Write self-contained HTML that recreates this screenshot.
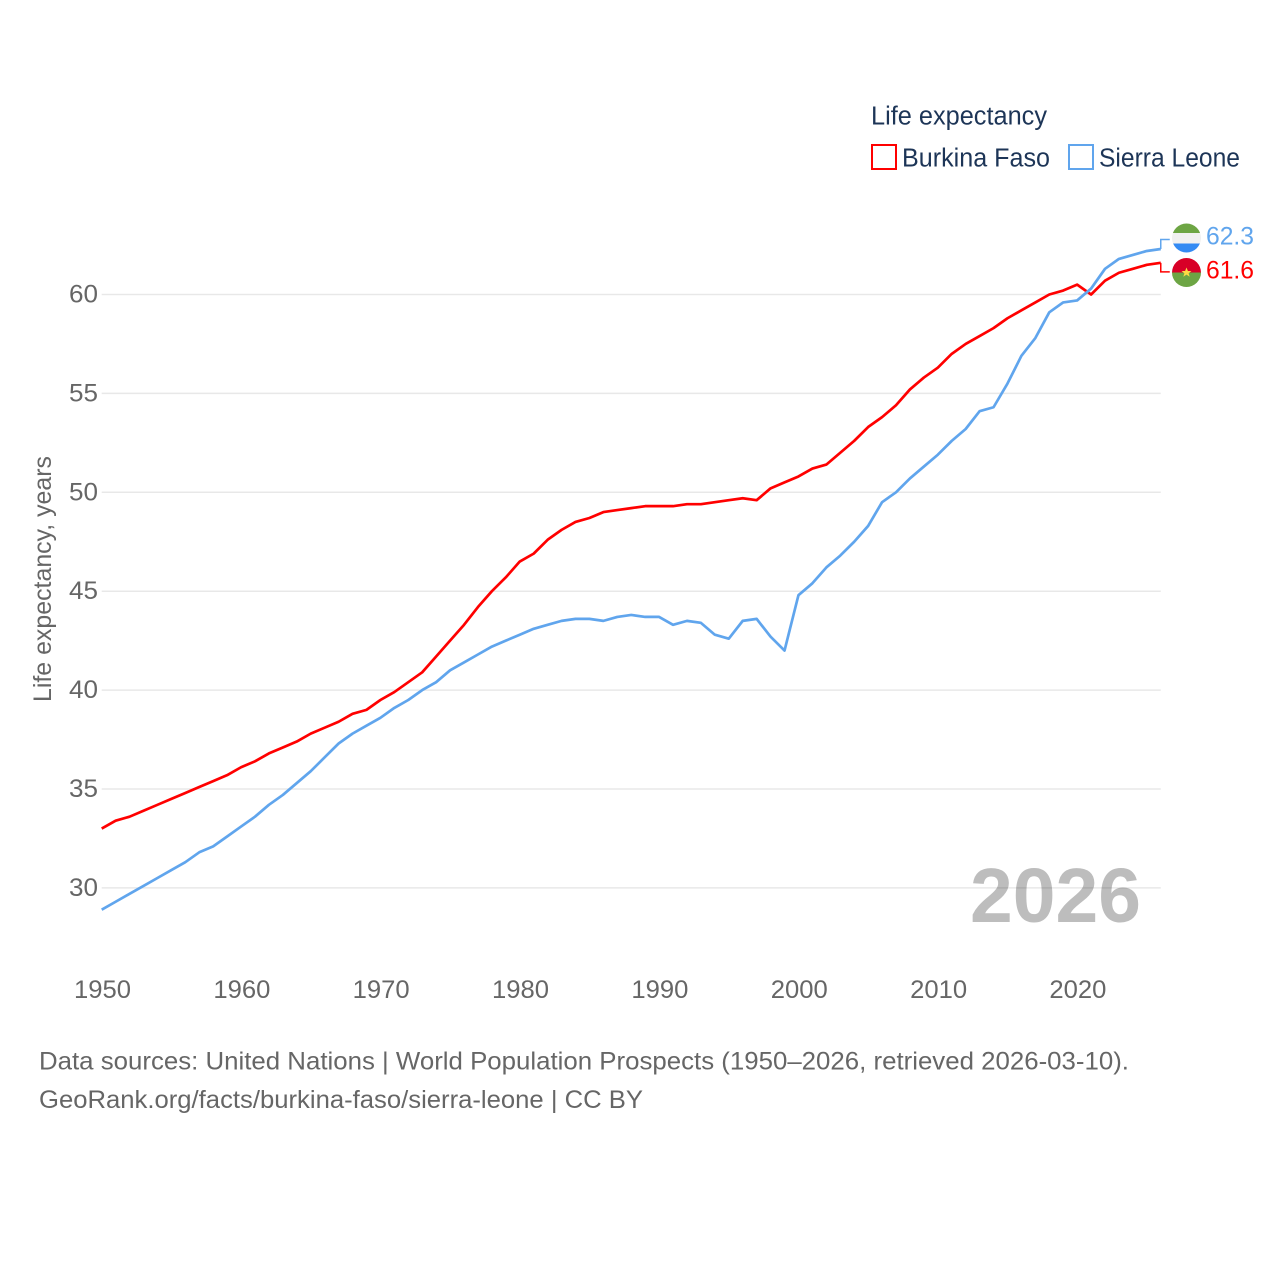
<!DOCTYPE html>
<html lang="en">
<head>
<meta charset="utf-8">
<title>Life expectancy: Burkina Faso and Sierra Leone</title>
<style>
  html, body { margin: 0; padding: 0; background: #fff; }
  #chart { display: block; width: 1280px; height: 1280px; font-family: "Liberation Sans", "DejaVu Sans", sans-serif; }
</style>
</head>
<body>
<svg id="chart" xmlns="http://www.w3.org/2000/svg" width="1280" height="1280" viewBox="0 0 1280 1280">
  <rect width="1280" height="1280" fill="#ffffff"/>

  <text x="970" y="922" font-size="77" font-weight="700" fill="#bdbdbd" textLength="171" lengthAdjust="spacingAndGlyphs">2026</text>

  <g id="grid"></g>
  <g id="y-ticks"></g>
  <g id="x-ticks"></g>
  <g id="series"></g>

  <text transform="translate(51,702) rotate(-90)" font-size="25" fill="#666666" textLength="246" lengthAdjust="spacingAndGlyphs">Life expectancy, years</text>

  <g>
    <text x="871" y="124.5" font-size="25.5" fill="#1d3557" textLength="176" lengthAdjust="spacingAndGlyphs">Life expectancy</text>
    <g>
      <rect x="872" y="145" width="24" height="24" fill="#ffffff" stroke="#ff0000" stroke-width="2"/>
      <text x="902" y="166.5" font-size="25.5" fill="#1d3557" textLength="148" lengthAdjust="spacingAndGlyphs">Burkina Faso</text>
    </g>
    <g>
      <rect x="1069" y="145" width="24" height="24" fill="#ffffff" stroke="#60a5ed" stroke-width="2"/>
      <text x="1099" y="166.5" font-size="25.5" fill="#1d3557" textLength="141" lengthAdjust="spacingAndGlyphs">Sierra Leone</text>
    </g>
  </g>

  <defs>
    <clipPath id="flag-clip-sl"><circle cx="1186.5" cy="238" r="14.5"/></clipPath>
    <clipPath id="flag-clip-bf"><circle cx="1186.5" cy="272.5" r="14.5"/></clipPath>
  </defs>
  <g clip-path="url(#flag-clip-sl)">
    <rect x="1172" y="223" width="30" height="10" fill="#6da544"/>
    <rect x="1172" y="233" width="30" height="11" fill="#f0f0f0"/>
    <rect x="1172" y="243.5" width="30" height="10" fill="#338af3"/>
  </g>
  <g clip-path="url(#flag-clip-bf)">
    <rect x="1172" y="258" width="30" height="14.5" fill="#d80027"/>
    <rect x="1172" y="272.5" width="30" height="15" fill="#6da544"/>
    <polygon points="1186.5,267.5 1187.9,271 1191.5,271 1188.6,273.2 1189.7,276.7 1186.5,274.6 1183.3,276.7 1184.4,273.2 1181.5,271 1185.1,271" fill="#ffda44"/>
  </g>

  <text x="39" y="1069.5" font-size="25" fill="#666666" textLength="1090" lengthAdjust="spacingAndGlyphs">Data sources: United Nations | World Population Prospects (1950–2026, retrieved 2026-03-10).</text>
  <text x="39" y="1108" font-size="25" fill="#666666" textLength="604" lengthAdjust="spacingAndGlyphs">GeoRank.org/facts/burkina-faso/sierra-leone | CC BY</text>
</svg>

<script>
const startYear = 1950;
const yTickValues = [30, 35, 40, 45, 50, 55, 60];
const xTickValues = [1950, 1960, 1970, 1980, 1990, 2000, 2010, 2020];
const burkinaFasoValues = [
  33.0, 33.4, 33.6, 33.9, 34.2, 34.5, 34.8, 35.1, 35.4, 35.7,
  36.1, 36.4, 36.8, 37.1, 37.4, 37.8, 38.1, 38.4, 38.8, 39.0,
  39.5, 39.9, 40.4, 40.9, 41.7, 42.5, 43.3, 44.2, 45.0, 45.7,
  46.5, 46.9, 47.6, 48.1, 48.5, 48.7, 49.0, 49.1, 49.2, 49.3,
  49.3, 49.3, 49.4, 49.4, 49.5, 49.6, 49.7, 49.6, 50.2, 50.5,
  50.8, 51.2, 51.4, 52.0, 52.6, 53.3, 53.8, 54.4, 55.2, 55.8,
  56.3, 57.0, 57.5, 57.9, 58.3, 58.8, 59.2, 59.6, 60.0, 60.2,
  60.5, 60.0, 60.7, 61.1, 61.3, 61.5, 61.6
];
const sierraLeoneValues = [
  28.9, 29.3, 29.7, 30.1, 30.5, 30.9, 31.3, 31.8, 32.1, 32.6,
  33.1, 33.6, 34.2, 34.7, 35.3, 35.9, 36.6, 37.3, 37.8, 38.2,
  38.6, 39.1, 39.5, 40.0, 40.4, 41.0, 41.4, 41.8, 42.2, 42.5,
  42.8, 43.1, 43.3, 43.5, 43.6, 43.6, 43.5, 43.7, 43.8, 43.7,
  43.7, 43.3, 43.5, 43.4, 42.8, 42.6, 43.5, 43.6, 42.7, 42.0,
  44.8, 45.4, 46.2, 46.8, 47.5, 48.3, 49.5, 50.0, 50.7, 51.3,
  51.9, 52.6, 53.2, 54.1, 54.3, 55.5, 56.9, 57.8, 59.1, 59.6,
  59.7, 60.3, 61.3, 61.8, 62.0, 62.2, 62.3
];

const SVG_NS = 'http://www.w3.org/2000/svg';
function xScale(year) { return 101.7 + (year - 1950) * 13.935; }
function yScale(value) { return 294.5 + (60 - value) * 19.78; }
function make(tag, attrs, parent) {
  const el = document.createElementNS(SVG_NS, tag);
  for (const k in attrs) el.setAttribute(k, attrs[k]);
  parent.appendChild(el);
  return el;
}

const gridGroup = document.getElementById('grid');
const yTickGroup = document.getElementById('y-ticks');
const xTickGroup = document.getElementById('x-ticks');
const seriesGroup = document.getElementById('series');

yTickValues.forEach(function (v) {
  const line = make('line', { x1: xScale(1950), x2: xScale(2026), y1: yScale(v), y2: yScale(v), stroke: '#000000', 'stroke-opacity': '0.09', 'stroke-width': 1.5 }, gridGroup);
  
  
  const label = make('text', { x: 98, y: yScale(v) + 8, 'text-anchor': 'end', 'font-size': 25, fill: '#666666', textLength: 29, lengthAdjust: 'spacingAndGlyphs' }, yTickGroup);
  
  
  label.textContent = String(v);
});

xTickValues.forEach(function (year) {
  const label = make('text', { x: xScale(year) + 0.8, y: 998, 'text-anchor': 'middle', 'font-size': 25, fill: '#666666', textLength: 57, lengthAdjust: 'spacingAndGlyphs' }, xTickGroup);
  
  
  label.textContent = String(year);
});

function drawSeries(values, color, key, connectorOffset, textBaselineOffset) {
  const points = values.map(function (v, i) {
    return xScale(startYear + i).toFixed(2) + ',' + yScale(v).toFixed(2);
  }).join(' ');
  const line = make('polyline', { points: points, fill: 'none', stroke: color, 'stroke-width': 2.7, 'stroke-linejoin': 'round' }, seriesGroup);
  
  

  const last = values[values.length - 1];
  const endX = xScale(startYear + values.length - 1);
  const endY = yScale(last);
  const labelY = endY + connectorOffset;
  const connector = make('polyline', {
    points: endX + ',' + endY + ' ' + endX + ',' + labelY + ' ' + (endX + 9) + ',' + labelY,
    fill: 'none', stroke: color, 'stroke-width': 1.5
  }, seriesGroup);
  
  

  const valueLabel = make('text', { x: 1206, y: labelY + textBaselineOffset, 'font-size': 25, fill: color, textLength: 48, lengthAdjust: 'spacingAndGlyphs' }, seriesGroup);
  
  
  valueLabel.textContent = last.toFixed(1);
}

drawSeries(burkinaFasoValues, '#ff0000', 'burkina-faso', 9, 6.6);
drawSeries(sierraLeoneValues, '#60a5ed', 'sierra-leone', -9.5, 5);
</script>
</body>
</html>
